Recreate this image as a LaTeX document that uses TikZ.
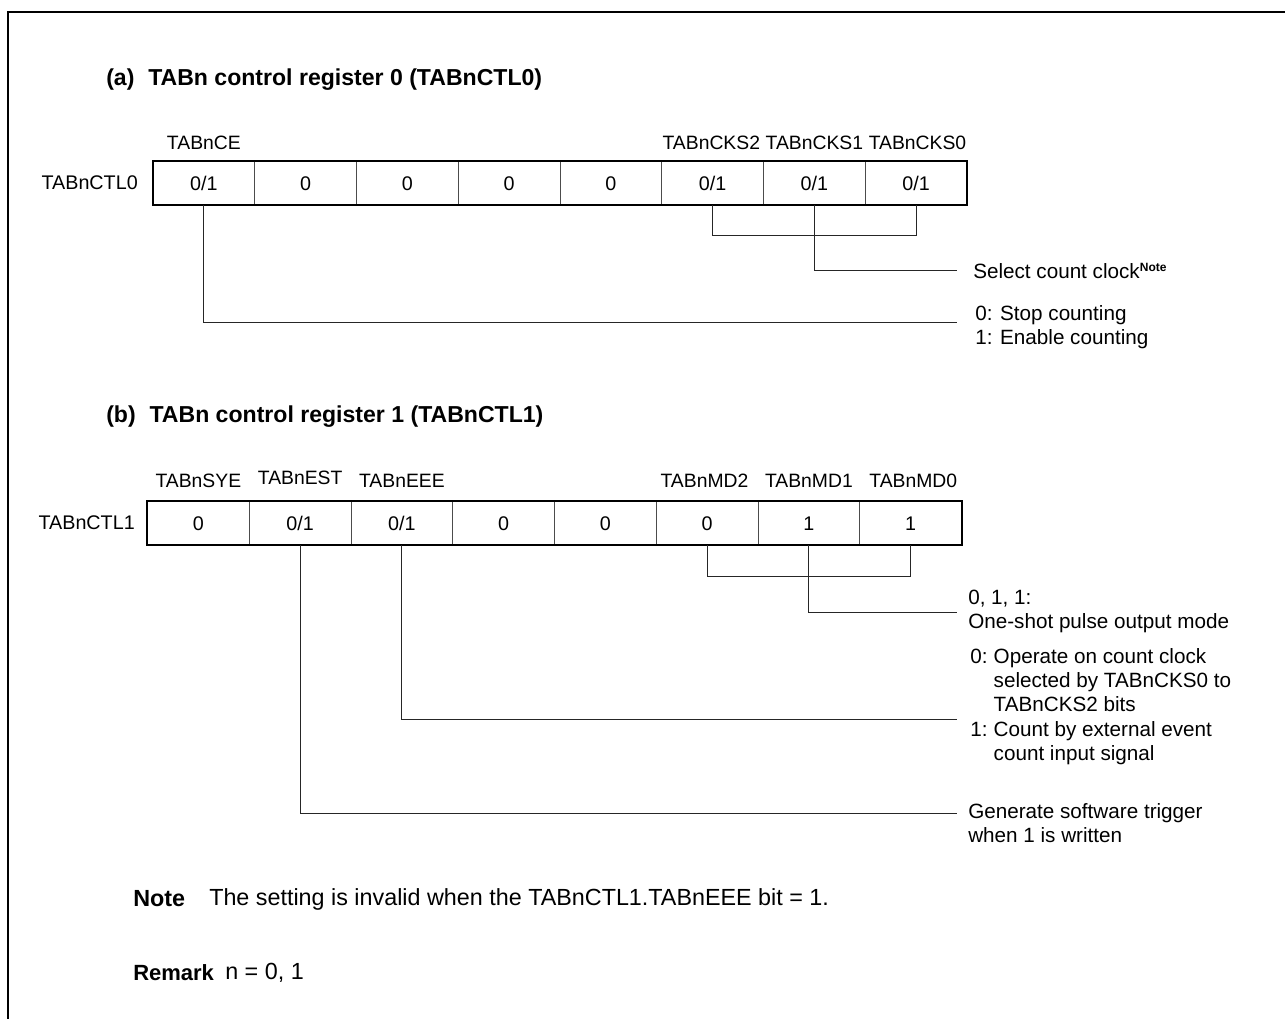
\documentclass[tikz,border=0pt]{standalone}
\usepackage{fontspec}
\setmainfont{Liberation Sans}
\begin{document}
\begin{tikzpicture}[x=0.75pt,y=-0.75pt,
  cell/.style={draw=black!70, line width=0.6pt, minimum width=76.31pt, minimum height=33pt, inner sep=0pt, text height=10.6pt, text depth=0pt, font=\fontsize{14.8}{17}\selectfont},
  outer/.style={draw=black, line width=1.6pt},
  lbl/.style={inner sep=0pt, font=\fontsize{14.5}{17}\selectfont},
  regname/.style={inner sep=0pt, anchor=east, font=\fontsize{14.8}{17}\selectfont},
  desc/.style={inner sep=0pt, anchor=west, align=left, font=\fontsize{15.5}{18.2}\selectfont},
  title/.style={inner sep=0pt, anchor=west, font=\fontsize{17.3}{20}\selectfont\bfseries},
  body/.style={inner sep=0pt, anchor=west, font=\fontsize{17.5}{20}\selectfont},
  conn/.style={draw=black!85, line width=0.75pt},
  frame/.style={draw=black, line width=2.1pt, line join=miter}]
\useasboundingbox (0,0) rectangle (1285,1019);
\draw[frame] (8,1019) -- (8,12) -- (1285,12);

% ---------- (a) ----------
\node[title] (ta) at (106,80) {(a)\hspace{0.6em}TABn control register 0 (TABnCTL0)};
\node[regname] (rn0) at (138,183) {TABnCTL0};
\foreach \i/\v in {0/0\slash 1,1/0,2/0,3/0,4/0,5/0\slash 1,6/0\slash 1,7/0\slash 1}{
  \node[cell] (r0c\i) at ({153+(\i+0.5)*101.75},183) {\v};
}
\draw[outer] (r0c0.north west) rectangle (r0c7.south east);
\node[lbl] (l0a) at (r0c0 |- 0,143) {TABnCE};
\node[lbl] (l0f) at ([xshift=-1pt]r0c5 |- 0,143) {TABnCKS2};
\node[lbl] (l0g) at (r0c6 |- 0,143) {TABnCKS1};
\node[lbl] (l0h) at ([xshift=1pt]r0c7 |- 0,143) {TABnCKS0};

\coordinate (b0) at (0,236);
\coordinate (selE) at (957,271);
\coordinate (stopE) at (957,323);
\draw[conn] (r0c5.south) -- (r0c5.south |- b0) -| (r0c7.south);
\draw[conn] (r0c6.south) |- (selE);
\draw[conn] (r0c0.south) |- (stopE);
\node[desc] (dsel) at (973,271) {Select count clock\textsuperscript{\fontsize{9}{10}\selectfont\bfseries Note}};
\node[desc, anchor=north west] (dstop) at (975,305) {0: Stop counting\\1: Enable counting};

% ---------- (b) ----------
\node[title] (tb) at (106,417) {(b)\hspace{0.6em}TABn control register 1 (TABnCTL1)};
\node[regname] (rn1) at (135,523) {TABnCTL1};
\foreach \i/\v in {0/0,1/0\slash 1,2/0\slash 1,3/0,4/0,5/0,6/1,7/1}{
  \node[cell] (r1c\i) at ({147.5+(\i+0.5)*101.75},523) {\v};
}
\draw[outer] (r1c0.north west) rectangle (r1c7.south east);
\node[lbl] (l1a) at (r1c0 |- 0,481) {TABnSYE};
\node[lbl] (l1b) at (r1c1 |- 0,478) {TABnEST};
\node[lbl] (l1c) at (r1c2 |- 0,481) {TABnEEE};
\node[lbl] (l1f) at ([xshift=-2pt]r1c5 |- 0,481) {TABnMD2};
\node[lbl] (l1g) at (r1c6 |- 0,481) {TABnMD1};
\node[lbl] (l1h) at ([xshift=2pt]r1c7 |- 0,481) {TABnMD0};

\coordinate (b1) at (0,576);
\coordinate (modeE) at (957,612);
\coordinate (eeeE) at (957,719);
\coordinate (estE) at (957,813);
\draw[conn] (r1c5.south) -- (r1c5.south |- b1) -| (r1c7.south);
\draw[conn] (r1c6.south) |- (modeE);
\draw[conn] (r1c2.south) |- (eeeE);
\draw[conn] (r1c1.south) |- (estE);
\node[desc, anchor=north west] (dmode) at (968,590) {0, 1, 1:\\One-shot pulse output mode};
\node[desc, anchor=north west] (deee) at (970,646) {%
  \begin{tabular}{@{}l@{\hspace{0.3em}}l@{}}
  0: & Operate on count clock\\
     & selected by TABnCKS0 to\\
     & TABnCKS2 bits\\
  1: & Count by external event\\
     & count input signal
  \end{tabular}};
\node[desc, anchor=north west] (dest) at (968,803) {Generate software trigger\\when 1 is written};

% ---------- notes ----------
\node[body] (nl) at (133,899) {\bfseries Note};
\node[body] (nt) at (209,899) {The setting is invalid when the TABnCTL1.TABnEEE bit = 1.};
\node[body, font=\fontsize{16.5}{20}\selectfont] (rl) at (133,973) {\bfseries Remark};
\node[body] (rt) at (225,973) {n = 0, 1};
\end{tikzpicture}
\end{document}
